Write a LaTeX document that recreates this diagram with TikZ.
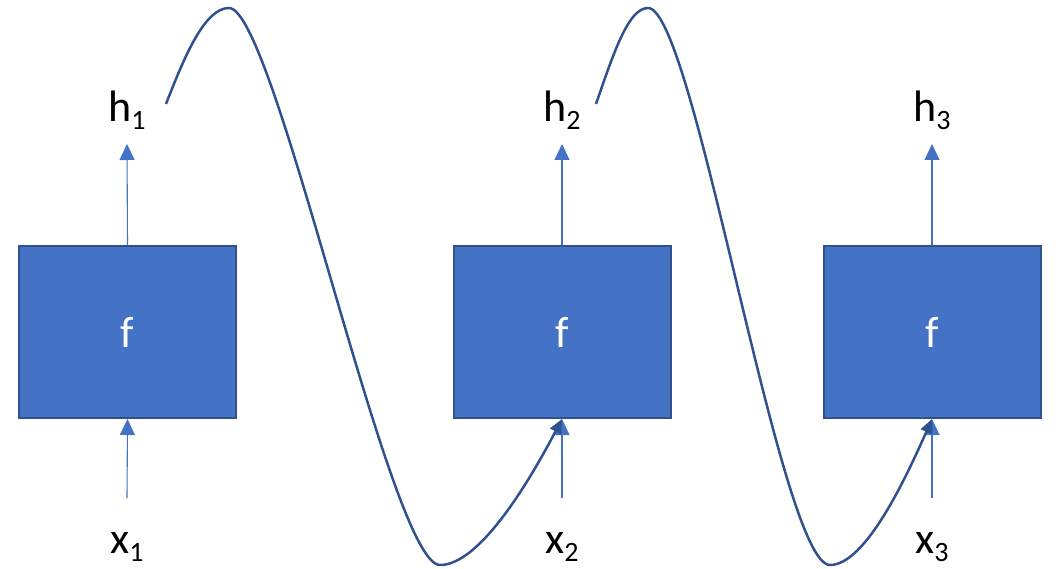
\documentclass[tikz,border=0pt]{standalone}
\usepackage{fontspec}
\setmainfont{Carlito}
\usetikzlibrary{arrows.meta}
\definecolor{boxfill}{HTML}{4472C4}
\definecolor{boxedge}{HTML}{2F528F}
\newcommand{\lbl}[2]{#1\raisebox{-8pt}{\fontsize{28}{28}\selectfont #2}}
\begin{document}
\begin{tikzpicture}[x=1pt,y=-1pt,
  fbox/.style={draw=boxedge,line width=2pt,fill=boxfill,minimum width=217pt,minimum height=172pt,inner sep=0pt,text=white,font=\fontsize{44}{44}\selectfont},
  lab/.style={anchor=base,inner sep=0pt,font=\fontsize{44}{44}\selectfont},
  vup/.style={draw=boxfill,line width=1.1pt,-{Triangle[length=16pt,width=15pt]}},
  loop/.style={draw=boxedge,line width=2.5pt,-{Triangle[length=14pt,width=12pt]}}]
\useasboundingbox (0,0) rectangle (1056,569);
\node[fbox] (f1) at (127.5,332) {f};
\node[fbox] (f2) at (562,332) {f};
\node[fbox] (f3) at (932,332) {f};
\node[lab] (h1) at (127,122) {\lbl{h}{1}};
\node[lab] (h2) at (562,122) {\lbl{h}{2}};
\node[lab] (h3) at (932,122) {\lbl{h}{3}};
\node[lab] (x1) at (127,553) {\lbl{x}{1}};
\node[lab] (x2) at (562,553) {\lbl{x}{2}};
\node[lab] (x3) at (932,553) {\lbl{x}{3}};
\coordinate (t1) at (127,144);
\coordinate (t2) at (562,144);
\coordinate (t3) at (932,144);
\coordinate (b1) at (127,498);
\coordinate (b2) at (562,498);
\coordinate (b3) at (932,498);
\draw[vup] (f1.north) -- (t1);
\draw[vup] (f2.north) -- (t2);
\draw[vup] (f3.north) -- (t3);
\draw[vup] (b1) -- (f1.south);
\draw[vup] (b2) -- (f2.south);
\draw[vup] (b3) -- (f3.south);
\coordinate (s1) at (166,104);
\coordinate (s2) at (596,104);
\draw[loop] (s1) .. controls (185,55) and (205,8) .. (229,8)
  .. controls (275,8) and (390,565) .. (440,565)
  .. controls (480,565) and (530,480) .. (f2.south);
\draw[loop] (s2) .. controls (613,55) and (628,8) .. (648,8)
  .. controls (694,8) and (780,565) .. (830,565)
  .. controls (865,565) and (905,480) .. (f3.south);
\end{tikzpicture}
\end{document}
